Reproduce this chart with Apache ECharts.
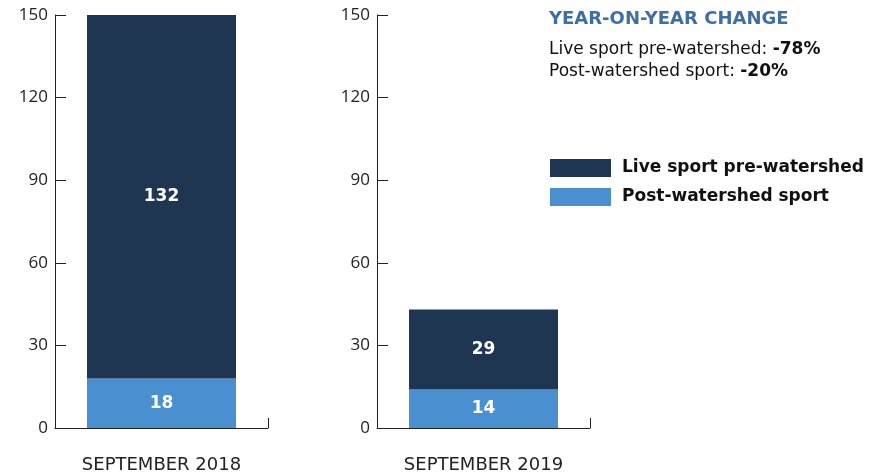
<!DOCTYPE html>
<html>
<head>
<meta charset="utf-8">
<script src="https://cdn.jsdelivr.net/npm/echarts@6/dist/echarts.min.js"></script>
<style>
  html, body { margin: 0; padding: 0; background: #fff; }
  #chart { width: 888px; height: 474px; }
</style>
</head>
<body>
<div id="chart"></div>
<script>
// data
const months = ["SEPTEMBER 2018", "SEPTEMBER 2019"];
const liveSport = [132, 29];
const postSport = [18, 14];
const yTicks = { min: 0, max: 150, interval: 30 };

const darkBlue = "#1f3652";
const lightBlue = "#4a8fd0";
const axisColor = "#222";
const font = "DejaVu Sans";

const myChart = echarts.init(document.getElementById("chart"));

const makeY = (gridIndex) => ({
  type: "value",
  gridIndex,
  min: yTicks.min,
  max: yTicks.max,
  interval: yTicks.interval,
  splitLine: { show: false },
  axisLine: { show: true, lineStyle: { color: axisColor, width: 1 } },
  axisTick: { show: true, inside: true, length: 11, lineStyle: { color: axisColor } },
  axisLabel: { color: axisColor, fontSize: 17, fontFamily: "Open Sans", margin: 7 },
});

const makeX = (gridIndex, label) => ({
  type: "category",
  gridIndex,
  data: [label],
  axisLine: { show: true, lineStyle: { color: axisColor, width: 1 } },
  axisTick: { show: true, inside: true, length: 10, lineStyle: { color: axisColor } },
  axisLabel: { color: axisColor, fontSize: 18, fontFamily: font, margin: 28 },
});

const barLabel = {
  show: true,
  position: "inside",
  color: "#fff",
  fontSize: 17,
  fontWeight: "bold",
  fontFamily: font,
};

// one panel per month
const series = [];
months.forEach((m, i) => {
  series.push({
    name: "Post-watershed sport",
    type: "bar",
    stack: "s" + i,
    xAxisIndex: i,
    yAxisIndex: i,
    barWidth: 149,
    itemStyle: { color: lightBlue },
    label: barLabel,
    data: [postSport[i]],
  });
  series.push({
    name: "Live sport pre-watershed",
    type: "bar",
    stack: "s" + i,
    xAxisIndex: i,
    yAxisIndex: i,
    barWidth: 149,
    itemStyle: { color: darkBlue },
    label: barLabel,
    data: [liveSport[i]],
  });
});

let options = {
  animation: false,
  title: {
    text: "YEAR-ON-YEAR CHANGE",
    left: 544,
    top: 5,
    itemGap: 11,
    textStyle: { color: "#3d6fa6", fontSize: 18, fontWeight: "bold", fontFamily: font },
    subtext: "{n|Live sport pre-watershed: }{b|-78%}\n{n|Post-watershed sport: }{b|-20%}",
    subtextStyle: {
      rich: {
        n: { fontSize: 17, color: "#111", fontFamily: font, lineHeight: 22 },
        b: { fontSize: 17, color: "#111", fontFamily: font, fontWeight: "bold", lineHeight: 22 },
      },
    },
  },
  legend: {
    orient: "vertical",
    left: 550,
    top: 159,
    padding: 0,
    itemWidth: 61,
    itemHeight: 18,
    itemGap: 11,
    icon: "rect",
    data: ["Live sport pre-watershed", "Post-watershed sport"],
    textStyle: {
      fontSize: 17,
      fontWeight: "bold",
      color: "#111",
      fontFamily: font,
      padding: [3, 0, 0, 6],
    },
  },
  grid: [
    { left: 55, top: 15, width: 213, bottom: 45 },
    { left: 377, top: 15, width: 213, bottom: 45 },
  ],
  xAxis: [makeX(0, months[0]), makeX(1, months[1])],
  yAxis: [makeY(0), makeY(1)],
  series,
};

myChart.setOption(options);
</script>
</body>
</html>
